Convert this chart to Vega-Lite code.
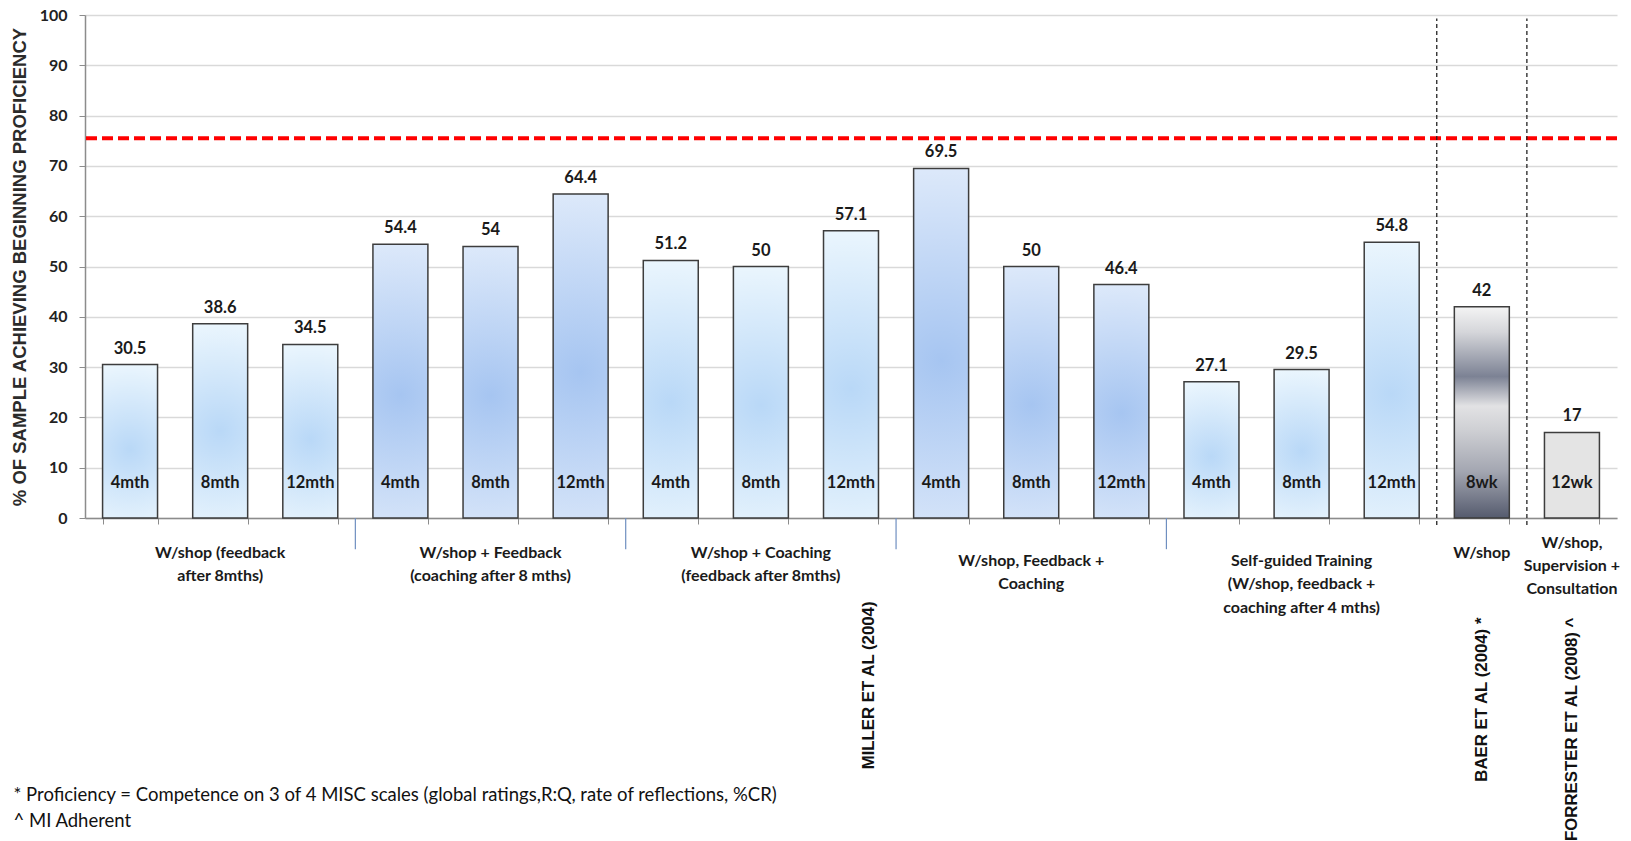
{
  "$schema": "https://vega.github.io/schema/vega-lite/v6.json",
  "width": 1532,
  "height": 503,
  "autosize": {"type": "none"},
  "padding": {"left": 85, "top": 15, "right": 14, "bottom": 323},
  "background": "white",
  "config": {"view": {"stroke": null}},
  "datasets": {
    "bars": [
      {"id": 1, "value": 30.5, "period": "4mth", "study": "Miller", "arm": 1},
      {"id": 2, "value": 38.6, "period": "8mth", "study": "Miller", "arm": 1},
      {"id": 3, "value": 34.5, "period": "12mth", "study": "Miller", "arm": 1},
      {"id": 4, "value": 54.4, "period": "4mth", "study": "Miller", "arm": 2},
      {"id": 5, "value": 54, "period": "8mth", "study": "Miller", "arm": 2},
      {"id": 6, "value": 64.4, "period": "12mth", "study": "Miller", "arm": 2},
      {"id": 7, "value": 51.2, "period": "4mth", "study": "Miller", "arm": 3},
      {"id": 8, "value": 50, "period": "8mth", "study": "Miller", "arm": 3},
      {"id": 9, "value": 57.1, "period": "12mth", "study": "Miller", "arm": 3},
      {"id": 10, "value": 69.5, "period": "4mth", "study": "Miller", "arm": 4},
      {"id": 11, "value": 50, "period": "8mth", "study": "Miller", "arm": 4},
      {"id": 12, "value": 46.4, "period": "12mth", "study": "Miller", "arm": 4},
      {"id": 13, "value": 27.1, "period": "4mth", "study": "Miller", "arm": 5},
      {"id": 14, "value": 29.5, "period": "8mth", "study": "Miller", "arm": 5},
      {"id": 15, "value": 54.8, "period": "12mth", "study": "Miller", "arm": 5},
      {"id": 16, "value": 42, "period": "8wk", "study": "Baer", "arm": 1},
      {"id": 17, "value": 17, "period": "12wk", "study": "Forrester", "arm": 1}
    ],
    "groupsA": [
      {"id": 2, "label": "W/shop (feedback\nafter 8mths)"},
      {"id": 5, "label": "W/shop + Feedback\n(coaching after 8 mths)"},
      {"id": 8, "label": "W/shop + Coaching\n(feedback after 8mths)"},
      {"id": 16, "label": "W/shop"}
    ],
    "groupsB": [
      {"id": 11, "label": "W/shop, Feedback +\nCoaching"},
      {"id": 14, "label": "Self-guided Training\n(W/shop, feedback +\ncoaching after 4 mths)"}
    ],
    "groupsC": [
      {"id": 17, "label": "W/shop,\nSupervision +\nConsultation"}
    ]
  },
  "layer": [
    {
      "data": {"name": "bars"},
      "transform": [{"filter": "datum.study === 'Miller' && datum.arm % 2 === 1"}],
      "mark": {
        "type": "bar",
        "fill": {"gradient": "radial", "x1": 0.5, "y1": 0.55, "r1": 0, "x2": 0.5, "y2": 0.55, "r2": 0.62,
          "stops": [{"offset": 0, "color": "#b9d8f7"}, {"offset": 1, "color": "#f0f9fe"}]},
        "stroke": "#3d3d3d",
        "strokeWidth": 1.5
      },
      "encoding": {
        "x": {
          "field": "id", "type": "ordinal",
          "scale": {"domain": [1,2,3,4,5,6,7,8,9,10,11,12,13,14,15,16,17], "paddingInner": 0.39, "paddingOuter": 0.195},
          "axis": {
            "labels": false,
            "grid": false,
            "tickBand": "extent",
            "tickSize": 6,
            "tickColor": "#8c8c8c",
            "domainColor": "#8c8c8c",
            "domainWidth": 1.5,
            "title": ["* Proficiency = Competence on 3 of 4 MISC scales (global ratings,R:Q, rate of reflections, %CR)", "^ MI Adherent"],
            "titleX": -72,
            "titleY": 267,
            "titleAlign": "left",
            "titleAnchor": "start",
            "titleBaseline": "top",
            "titleFont": "Lato",
            "titleFontSize": 18.5,
            "titleFontWeight": "normal",
            "titleColor": "#111111",
            "titleLineHeight": 26
          }
        },
        "y": {
          "field": "value", "type": "quantitative",
          "scale": {"domain": [0, 100]},
          "axis": {
            "values": [0,10,20,30,40,50,60,70,80,90,100],
            "title": "% OF SAMPLE ACHIEVING BEGINNING PROFICIENCY",
            "titleFont": "Liberation Sans",
            "titleFontSize": 18.5,
            "titleFontWeight": "bold",
            "titleColor": "#2b2b2b",
            "titlePadding": 10,
            "labelFont": "Lato",
            "labelFontSize": 16,
            "labelFontWeight": "bold",
            "labelColor": "#222222",
            "labelPadding": 12,
            "tickSize": 6,
            "tickColor": "#8c8c8c",
            "domainColor": "#8c8c8c",
            "domainWidth": 1.5,
            "grid": true,
            "gridColor": "#d9d9d9",
            "gridWidth": 1.5
          }
        }
      }
    },
    {
      "data": {"name": "bars"},
      "transform": [{"filter": "datum.study === 'Miller' && datum.arm % 2 === 0"}],
      "mark": {
        "type": "bar",
        "fill": {"gradient": "radial", "x1": 0.5, "y1": 0.55, "r1": 0, "x2": 0.5, "y2": 0.55, "r2": 0.62,
          "stops": [{"offset": 0, "color": "#a6c5f1"}, {"offset": 1, "color": "#e3edfb"}]},
        "stroke": "#3d3d3d",
        "strokeWidth": 1.5
      },
      "encoding": {
        "x": {"field": "id", "type": "ordinal"},
        "y": {"field": "value", "type": "quantitative", "scale": {"domain": [0, 100]}}
      }
    },
    {
      "data": {"name": "bars"},
      "transform": [{"filter": "datum.study === 'Baer'"}],
      "mark": {
        "type": "bar",
        "fill": {"gradient": "linear", "x1": 0, "y1": 0, "x2": 0, "y2": 1,
          "stops": [
            {"offset": 0, "color": "#f4f4f4"},
            {"offset": 0.12, "color": "#d5d6da"},
            {"offset": 0.33, "color": "#7c8294"},
            {"offset": 0.47, "color": "#e2e2e4"},
            {"offset": 0.58, "color": "#cfd0d4"},
            {"offset": 0.78, "color": "#a3a6b1"},
            {"offset": 1, "color": "#555b6e"}
          ]},
        "stroke": "#3d3d3d",
        "strokeWidth": 1.5
      },
      "encoding": {
        "x": {"field": "id", "type": "ordinal"},
        "y": {"field": "value", "type": "quantitative", "scale": {"domain": [0, 100]}}
      }
    },
    {
      "data": {"name": "bars"},
      "transform": [{"filter": "datum.study === 'Forrester'"}],
      "mark": {"type": "bar", "fill": "#e4e4e4", "stroke": "#3d3d3d", "strokeWidth": 1.5},
      "encoding": {
        "x": {"field": "id", "type": "ordinal"},
        "y": {"field": "value", "type": "quantitative", "scale": {"domain": [0, 100]}}
      }
    },
    {
      "data": {"name": "bars"},
      "mark": {"type": "text", "font": "Lato", "fontSize": 16.5, "fontWeight": "bold", "color": "#1a1a1a", "baseline": "middle", "dy": -16},
      "encoding": {
        "x": {"field": "id", "type": "ordinal"},
        "y": {"field": "value", "type": "quantitative", "scale": {"domain": [0, 100]}},
        "text": {"field": "value", "type": "nominal"}
      }
    },
    {
      "data": {"name": "bars"},
      "mark": {"type": "text", "font": "Lato", "fontSize": 16.5, "fontWeight": "bold", "color": "#1a1a1a", "baseline": "middle"},
      "encoding": {
        "x": {"field": "id", "type": "ordinal"},
        "y": {"datum": 7, "scale": {"domain": [0, 100]}},
        "text": {"field": "period", "type": "nominal"}
      }
    },
    {
      "data": {"values": [{}]},
      "mark": {"type": "rule", "color": "#ff0000", "strokeWidth": 4, "strokeDash": [11, 5]},
      "encoding": {
        "y": {"datum": 75.5, "scale": {"domain": [0, 100]}}
      }
    },
    {
      "data": {"values": [{"id": 16}, {"id": 17}]},
      "mark": {"type": "rule", "color": "#222222", "strokeWidth": 1.3, "strokeDash": [4, 3]},
      "encoding": {
        "x": {"field": "id", "type": "ordinal", "bandPosition": -0.3197},
        "y": {"datum": -1.4, "scale": {"domain": [0, 100]}},
        "y2": {"datum": 99.3}
      }
    },
    {
      "data": {"values": [{"id": 4}, {"id": 7}, {"id": 10}, {"id": 13}]},
      "mark": {"type": "rule", "color": "#6f8fc0", "strokeWidth": 1.2},
      "encoding": {
        "x": {"field": "id", "type": "ordinal", "bandPosition": -0.3197},
        "y": {"datum": 0, "scale": {"domain": [0, 100]}},
        "y2": {"datum": -6.2}
      }
    },
    {
      "data": {"name": "groupsA"},
      "mark": {"type": "text", "font": "Lato", "fontSize": 16, "fontWeight": "bold", "color": "#1a1a1a", "baseline": "top", "align": "center", "lineBreak": "\n", "lineHeight": 23.5},
      "encoding": {
        "x": {"field": "id", "type": "ordinal"},
        "y": {"datum": -5.3, "scale": {"domain": [0, 100]}},
        "text": {"field": "label", "type": "nominal"}
      }
    },
    {
      "data": {"name": "groupsB"},
      "mark": {"type": "text", "font": "Lato", "fontSize": 16, "fontWeight": "bold", "color": "#1a1a1a", "baseline": "top", "align": "center", "lineBreak": "\n", "lineHeight": 23.5},
      "encoding": {
        "x": {"field": "id", "type": "ordinal"},
        "y": {"datum": -6.9, "scale": {"domain": [0, 100]}},
        "text": {"field": "label", "type": "nominal"}
      }
    },
    {
      "data": {"name": "groupsC"},
      "mark": {"type": "text", "font": "Lato", "fontSize": 16, "fontWeight": "bold", "color": "#1a1a1a", "baseline": "top", "align": "center", "lineBreak": "\n", "lineHeight": 23},
      "encoding": {
        "x": {"field": "id", "type": "ordinal"},
        "y": {"datum": -3.3, "scale": {"domain": [0, 100]}},
        "text": {"field": "label", "type": "nominal"}
      }
    },
    {
      "data": {"values": [{"id": 9, "label": "MILLER ET AL (2004)"}]},
      "mark": {"type": "text", "font": "Liberation Sans", "fontSize": 16.8, "fontWeight": "bold", "color": "#111111", "angle": 270, "align": "right", "baseline": "middle"},
      "encoding": {
        "x": {"field": "id", "type": "ordinal", "bandPosition": 0.83},
        "y": {"datum": -16.6, "scale": {"domain": [0, 100]}},
        "text": {"field": "label", "type": "nominal"}
      }
    },
    {
      "data": {"values": [{"id": 16, "label": "BAER ET AL (2004) *"}, {"id": 17, "label": "FORRESTER ET AL (2008) ^"}]},
      "mark": {"type": "text", "font": "Liberation Sans", "fontSize": 16.8, "fontWeight": "bold", "color": "#111111", "angle": 270, "align": "right", "baseline": "middle"},
      "encoding": {
        "x": {"field": "id", "type": "ordinal", "bandPosition": 0.5},
        "y": {"datum": -19.8, "scale": {"domain": [0, 100]}},
        "text": {"field": "label", "type": "nominal"}
      }
    }
  ]
}
